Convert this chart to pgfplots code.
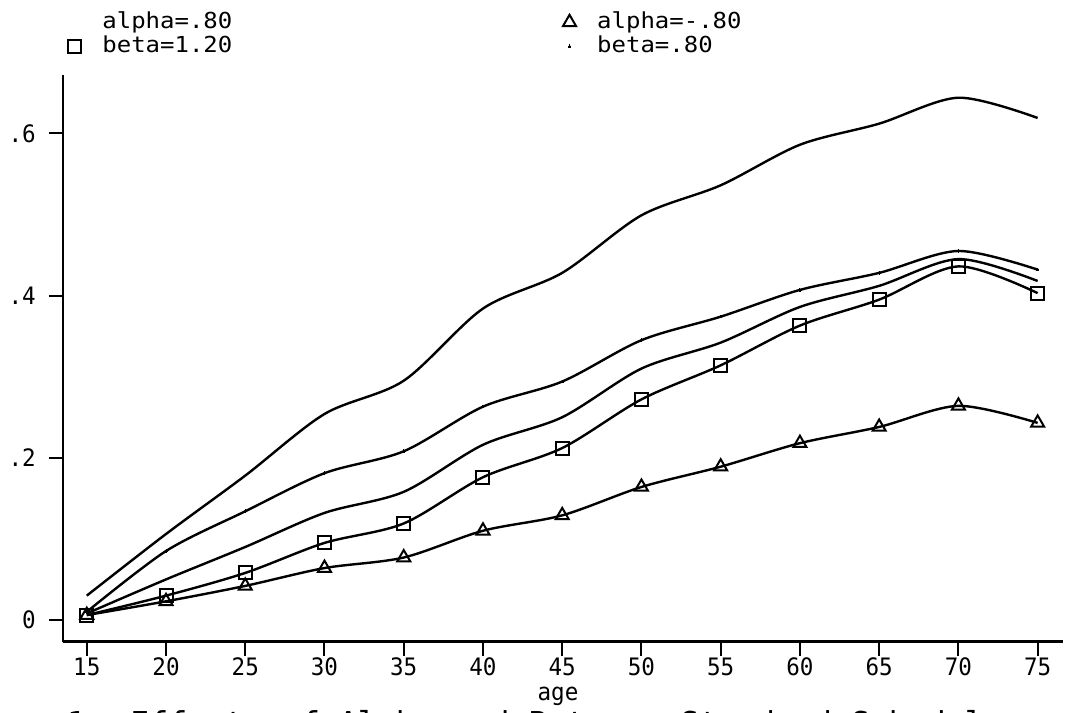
\documentclass[border=0pt]{standalone}
\usepackage{fontspec}
\setmainfont{DejaVu Sans Mono}
\newfontfamily\legfont[FakeStretch=1.09]{DejaVu Sans Mono}
\newfontfamily\tickfont[FakeStretch=0.94]{DejaVu Sans Mono}
\usepackage{pgfplots}
\pgfplotsset{compat=1.18}

\begin{document}
\begin{tikzpicture}
\useasboundingbox (0bp,0bp) rectangle (1073bp,713bp);
\begin{axis}[
  at={(63bp,71.3bp)}, anchor=south west,
  scale only axis, width=1000bp, height=566.7bp,
  xmin=13.5, xmax=76.6, ymin=-0.0268, ymax=0.672,
  axis lines=left,
  axis line style={-, line width=2.6bp, black},
  tick align=outside,
  major tick length=14bp,
  every tick/.style={black, line width=2bp},
  xtick={15,20,...,75},
  ytick={0,0.2,0.4,0.6},
  yticklabels={0,.2,.4,.6},
  /pgf/number format/assume math mode=true,
  ticklabel style={font=\tickfont\fontsize{24bp}{28bp}\selectfont},
  xticklabel style={inner sep=2bp},
  yticklabel style={inner sep=2bp, xshift=-11bp},
  xlabel={age},
  xlabel style={font=\tickfont\fontsize{24bp}{28bp}\selectfont, inner sep=0pt,
    anchor=base, at={(axis description cs:0.495,-0.104)}},
  legend columns=2, legend cell align=left,
  legend style={
    at={(axis description cs:0.0035,1.1142)}, anchor=north west,
    draw=none, fill=none, inner sep=0pt, outer sep=0pt,
    font=\legfont\fontsize{22bp}{25bp}\selectfont,
    nodes={inner sep=0pt, text height=18bp, text depth=6bp},
    row sep=0pt,
    /tikz/every odd column/.style={column sep=19.5bp},
    /tikz/every even column/.style={column sep=329bp},
  },
  legend image code/.code={\path (-7bp,0bp) (7bp,0bp);
    \draw[#1] plot[only marks] coordinates {(0bp,0bp)};},
]
% alpha=.80
\addplot[black, line width=2.4bp, smooth, mark=none] coordinates {
 (15,0.030) (20,0.106) (25,0.178) (30,0.254) (35,0.295) (40,0.384) (45,0.428)
 (50,0.499) (55,0.536) (60,0.586) (65,0.612) (70,0.644) (75,0.619)};
\addlegendentry{alpha=.80}
% alpha=-.80
\addplot[black, line width=2.4bp, smooth, mark=triangle, mark size=7.5bp,
  mark options={line width=2bp}] coordinates {
 (15,0.006) (20,0.023) (25,0.042) (30,0.064) (35,0.077) (40,0.110) (45,0.129)
 (50,0.164) (55,0.189) (60,0.218) (65,0.238) (70,0.264) (75,0.243)};
\addlegendentry{alpha=-.80}
% beta=1.20
\addplot[black, line width=2.4bp, smooth, mark=square, mark size=6.5bp,
  mark options={line width=2bp}] coordinates {
 (15,0.006) (20,0.030) (25,0.058) (30,0.095) (35,0.119) (40,0.176) (45,0.212)
 (50,0.272) (55,0.314) (60,0.363) (65,0.395) (70,0.436) (75,0.403)};
\addlegendentry{beta=1.20}
% beta=.80
\addplot[black, line width=2.4bp, smooth, mark=*, mark size=1.3bp,
  mark options={line width=0pt}] coordinates {
 (15,0.010) (20,0.085) (25,0.134) (30,0.181) (35,0.208) (40,0.263) (45,0.294)
 (50,0.345) (55,0.374) (60,0.407) (65,0.428) (70,0.455) (75,0.432)};
\addlegendentry{beta=.80}
% standard
\addplot[black, line width=2.4bp, smooth, mark=none, forget plot] coordinates {
 (15,0.008) (20,0.050) (25,0.090) (30,0.132) (35,0.158) (40,0.216) (45,0.250)
 (50,0.310) (55,0.342) (60,0.386) (65,0.412) (70,0.445) (75,0.418)};
\end{axis}
\node[anchor=base west, inner sep=0pt, font=\fontsize{31.5bp}{36bp}\selectfont]
  at (67bp,-21bp) {1: Effects of Alpha and Beta on Standard Schedule};
\end{tikzpicture}
\end{document}
